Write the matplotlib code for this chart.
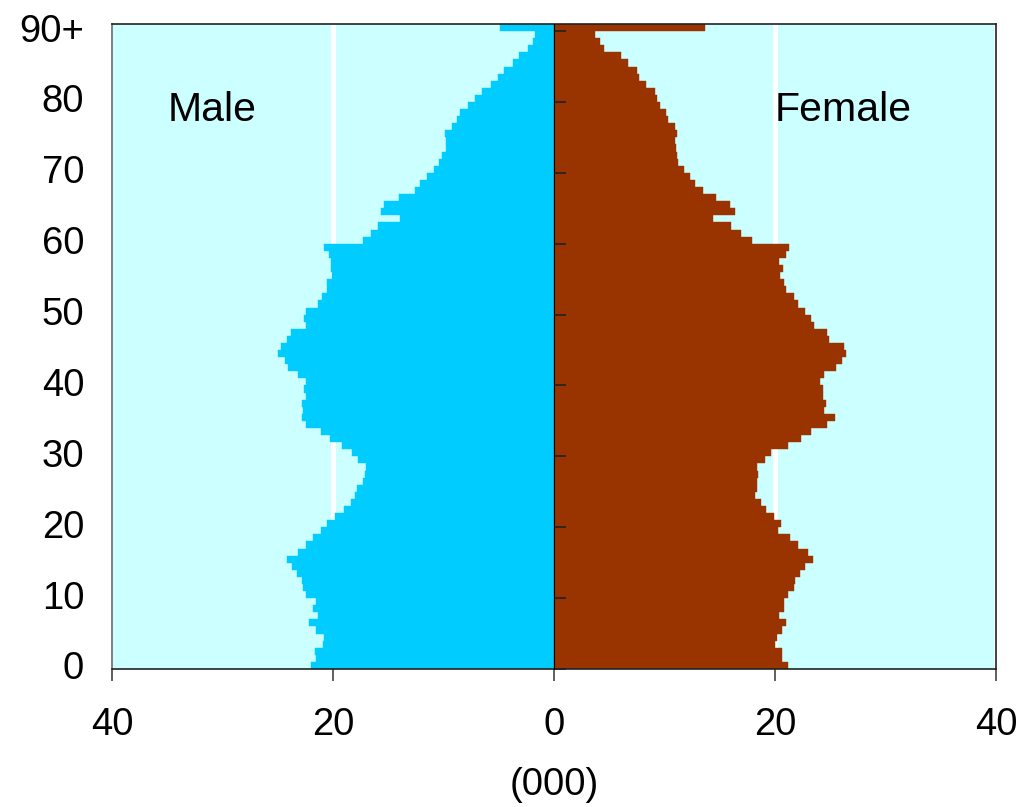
import numpy as np
import matplotlib
matplotlib.use("Agg")
import matplotlib.pyplot as plt

plt.rcParams['font.family'] = ['Liberation Sans', 'DejaVu Sans']

# population by single year of age, thousands (last group is 90+)
ages = list(range(0, 91))
male = [22.0, 21.5, 21.6, 20.9, 20.8, 21.5, 22.2, 21.4, 21.8, 21.5,
        22.4, 22.7, 22.8, 23.3, 23.7, 24.2, 23.2, 22.4, 21.8, 21.1,
        20.5, 19.8, 19.0, 18.4, 18.0, 17.8, 17.3, 17.1, 17.0, 17.7,
        18.3, 19.2, 20.3, 21.1, 22.4, 22.8, 22.7, 22.8, 22.4, 22.6,
        22.4, 23.2, 24.1, 24.3, 25.0, 24.7, 24.2, 23.8, 22.4, 22.6,
        22.4, 21.4, 21.0, 20.5, 20.5, 20.1, 20.2, 20.2, 20.4, 20.8,
        17.3, 16.6, 15.9, 13.9, 15.7, 15.4, 14.0, 12.6, 12.1, 11.5,
        10.9, 10.4, 10.1, 9.8, 9.8, 9.9, 9.2, 8.8, 8.5, 7.8,
        7.15, 6.5, 5.7, 5.1, 4.5, 3.7, 3.2, 2.35, 1.9, 1.7,
        4.9]
female = [21.2, 20.6, 20.6, 20.0, 20.2, 20.6, 21.0, 20.4, 20.8, 20.8,
          21.2, 21.7, 21.8, 22.3, 22.7, 23.4, 23.0, 22.1, 21.4, 20.3,
          20.5, 19.9, 19.2, 18.7, 18.2, 18.4, 18.4, 18.5, 18.4, 19.1,
          19.6, 21.2, 22.35, 23.3, 24.7, 25.4, 24.4, 24.6, 24.3, 24.3,
          24.1, 24.4, 25.5, 26.1, 26.4, 26.2, 24.9, 24.7, 23.5, 23.3,
          22.7, 22.1, 21.7, 21.0, 20.8, 20.45, 20.7, 20.4, 21.0, 21.3,
          17.9, 16.9, 16.0, 14.4, 16.4, 15.9, 14.7, 13.5, 12.8, 12.3,
          11.8, 11.2, 11.1, 11.0, 10.95, 11.1, 10.95, 10.3, 10.1, 9.6,
          9.3, 9.1, 8.3, 7.7, 7.5, 6.7, 6.1, 4.5, 4.2, 3.7,
          13.7]

age_ticks = [0, 10, 20, 30, 40, 50, 60, 70, 80, 90]
age_labels = ['0', '10', '20', '30', '40', '50', '60', '70', '80', '90+']
x_ticks = [-40, -20, 0, 20, 40]
x_labels = ['40', '20', '0', '20', '40']

fig = plt.figure(figsize=(10.24, 8.07), dpi=100)
ax = fig.add_axes([112/1024, 1 - 669/807, 884/1024, 645/807])
ax.set_facecolor('#CCFFFF')

ax.barh(ages, -np.array(male), height=1.0, color='#00CCFF',
        edgecolor='#00CCFF', linewidth=0.3, zorder=2)
ax.barh(ages, female, height=1.0, color='#993300',
        edgecolor='#993300', linewidth=0.3, zorder=2)

ax.set_xlim(-40, 40)
ax.set_ylim(-0.5, 90.5)

# white vertical gridlines behind the bars
ax.set_xticks(x_ticks)
ax.set_xticklabels(x_labels)
ax.grid(axis='x', color='white', linewidth=3.5, zorder=0)
ax.set_axisbelow(True)
ax.get_xgridlines()[0].set_visible(False)  # none on the left border

ax.set_yticks(age_ticks)
ax.set_yticklabels(age_labels)
ax.tick_params(axis='y', length=0, pad=20, labelsize=27.5)
ax.tick_params(axis='x', direction='out', length=8.6, width=1.2,
               color='#444444', pad=19, labelsize=27.5)
ax.set_xlabel('(000)', fontsize=27.5, labelpad=17)

for side in ['top', 'right', 'bottom']:
    ax.spines[side].set_color('#222222')
    ax.spines[side].set_linewidth(1.2)
ax.spines['left'].set_color('#808080')
ax.spines['left'].set_linewidth(1.4)

# centre axis with tick marks between age groups
mid = ax.secondary_yaxis(0.5)
mid.set_yticks([t - 0.5 for t in age_ticks])
mid.set_yticklabels([])
mid.tick_params(direction='out', length=8.6, width=1.2, color='#222222')
mid.spines['left'].set_color('#222222')
mid.spines['left'].set_linewidth(1.4)
mid.set_zorder(5)

ax.text(-30.9, 78.4, 'Male', fontsize=29.5, ha='center', va='center')
ax.text(26.2, 78.4, 'Female', fontsize=29.5, ha='center', va='center')

fig.savefig('out.png', dpi=100)
